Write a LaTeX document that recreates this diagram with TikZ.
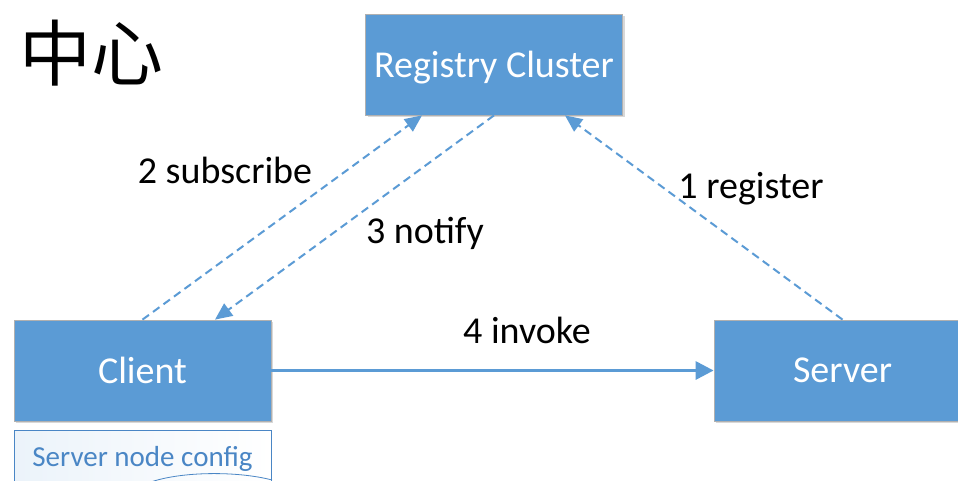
\documentclass[tikz,border=0pt]{standalone}
\usepackage{fontspec}
\setmainfont{Carlito}
\newfontfamily\cjk{Noto Sans CJK SC}
\usetikzlibrary{arrows.meta,calc,positioning,shadows}

\definecolor{boxblue}{HTML}{5B9BD5}
\definecolor{boxline}{HTML}{B0B0B0}
\definecolor{cfgblue}{HTML}{4A86C5}

\begin{document}
\begin{tikzpicture}[x=1pt,y=-1pt,>={Triangle[length=17pt,width=15pt]},
  box/.style={rectangle,fill=boxblue,draw=boxline,line width=0.8pt,minimum width=257pt,minimum height=101pt,
    text=white,text depth=0pt,font=\fontsize{38}{40}\selectfont,
    drop shadow={opacity=0.3,shadow xshift=2pt,shadow yshift=-2pt}},
  cfgbox/.style={rectangle,draw=cfgblue,line width=0.8pt,left color=boxblue!12,right color=white,
    minimum width=257pt,minimum height=56pt,text=cfgblue,font=\fontsize{29}{31}\selectfont},
  msg/.style={->,boxblue,line width=2pt,dash pattern=on 8pt off 5pt},
  call/.style={->,boxblue,line width=3.2pt,>={Triangle[length=18pt,width=18pt]}},
  lbl/.style={font=\fontsize{38}{40}\selectfont}]
  \clip (0,0) rectangle (958,481);
  \fill[white] (0,0) rectangle (958,481);

  % title (cut off on the left)
  \node[anchor=west,font=\cjk\fontsize{72}{74}\selectfont] (title) at (16,53) {中心};

  % the three parties
  \node[box] (reg)    at (494,64.5)  {Registry Cluster};
  \node[box] (client) at (142.5,370.5) {Client};
  \node[box] (server) at (842.5,370.5) {Server};
  \node[cfgbox,below=9pt of client] (cfg) {Server node config};
  \draw[cfgblue,line width=0.8pt] (148,483) .. controls (180,471) and (238,471) .. (272,480);

  % messages
  \draw[msg] (server.north) -- ($(reg.south)+(71,0)$);
  \draw[msg] (client.north) -- ($(reg.south)+(-72,0)$);
  \draw[msg] (reg.south) -- ($(client.north)+(72.5,0)$);
  \draw[call] (client.east) -- (server.west);

  \node[lbl] (lreg) at (751,189) {1 register};
  \node[lbl] (lsub) at (225,170) {2 subscribe};
  \node[lbl] (lnot) at (425,233) {3 notify};
  \node[lbl] (linv) at (527,330) {4 invoke};
\end{tikzpicture}
\end{document}
